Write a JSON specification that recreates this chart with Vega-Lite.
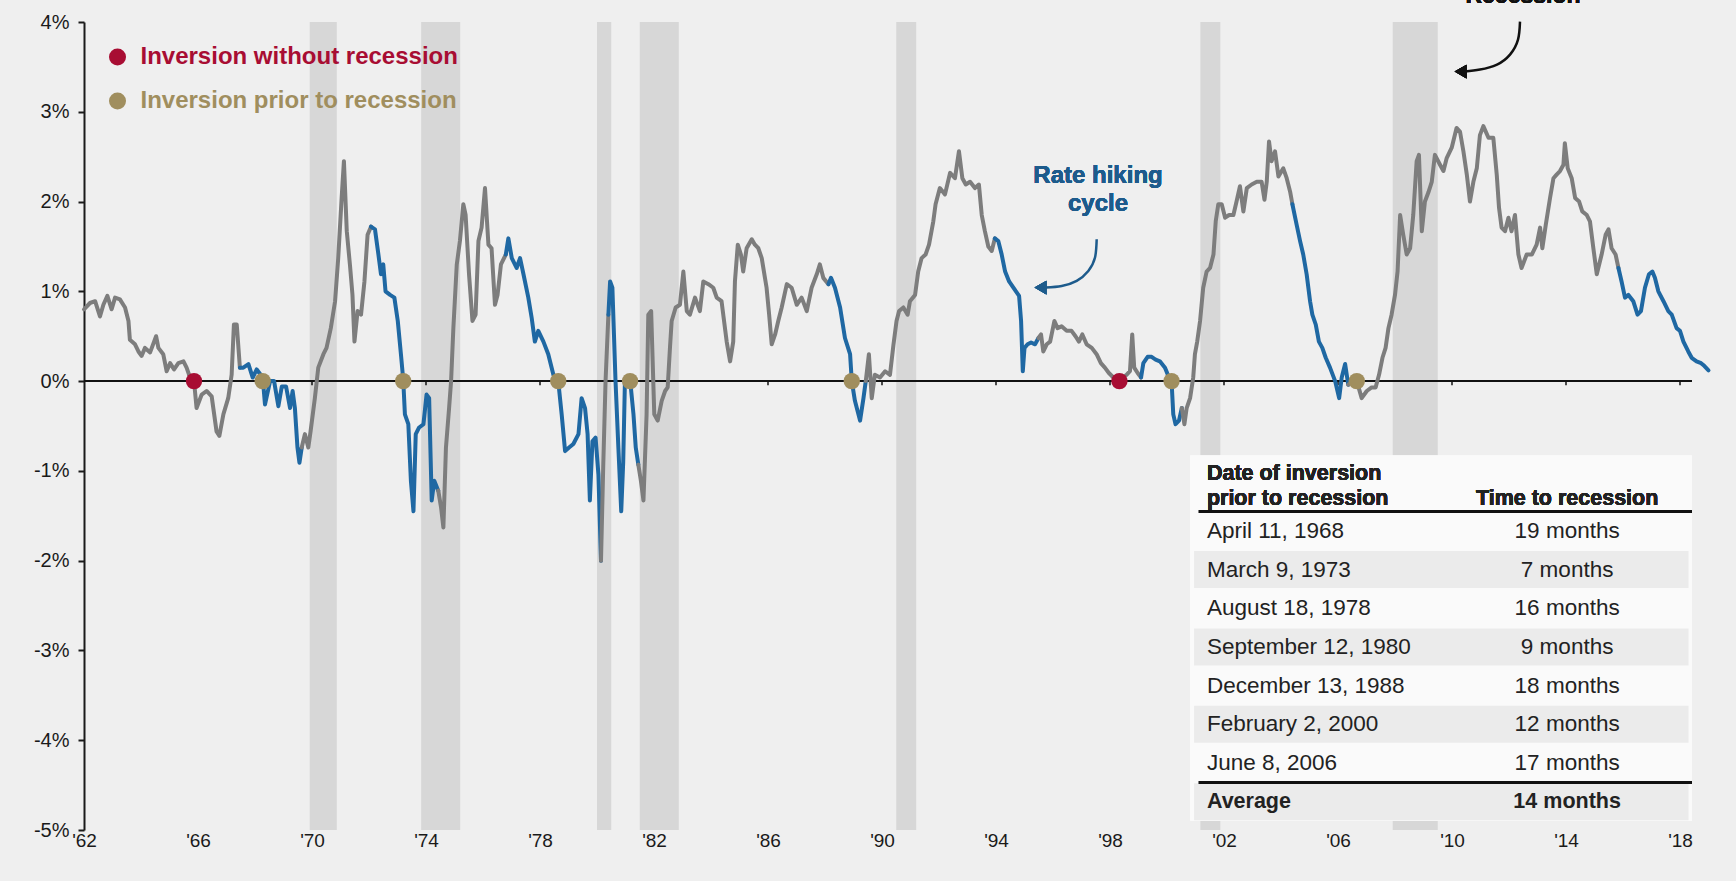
{
  "$schema": "https://vega.github.io/schema/vega-lite/v6.json",
  "width": 1641.6,
  "height": 808,
  "autosize": {"type": "none"},
  "padding": {"left": 84, "top": 22, "right": 10.4, "bottom": 51},
  "background": "#efefef",
  "config": {"view": {"stroke": null}, "font": "Liberation Sans", "text": {"font": "Liberation Sans"}},
  "datasets": {
    "recessions": [
      {"start": 1969.92, "end": 1970.87}, {"start": 1973.83, "end": 1975.2}, {"start": 1980.0, "end": 1980.5},
      {"start": 1981.5, "end": 1982.87}, {"start": 1990.5, "end": 1991.2}, {"start": 2001.17, "end": 2001.87},
      {"start": 2007.92, "end": 2009.5}
    ],
    "ticks": [{"yr":1966},{"yr":1970},{"yr":1974},{"yr":1978},{"yr":1982},{"yr":1986},{"yr":1990},{"yr":1994},{"yr":1998},{"yr":2002},{"yr":2006},{"yr":2010},{"yr":2014},{"yr":2018}],
    "inversions": [
      {"year": 1965.86, "spread": 0, "kind": "Inversion without recession"},
      {"year": 1998.33, "spread": 0, "kind": "Inversion without recession"},
      {"year": 1968.27, "spread": 0, "kind": "Inversion prior to recession"},
      {"year": 1973.2, "spread": 0, "kind": "Inversion prior to recession"},
      {"year": 1978.64, "spread": 0, "kind": "Inversion prior to recession"},
      {"year": 1981.16, "spread": 0, "kind": "Inversion prior to recession"},
      {"year": 1988.94, "spread": 0, "kind": "Inversion prior to recession"},
      {"year": 2000.16, "spread": 0, "kind": "Inversion prior to recession"},
      {"year": 2006.66, "spread": 0, "kind": "Inversion prior to recession"}
    ],
    "arrowRecession": [
      {"year": 2012.386, "spread": 4.004}, {"year": 2012.316, "spread": 3.804}, {"year": 2012.035, "spread": 3.637},
      {"year": 2011.579, "spread": 3.526}, {"year": 2010.982, "spread": 3.47}, {"year": 2010.45, "spread": 3.448}
    ],
    "arrowHiking": [
      {"year": 1997.533, "spread": 1.58}, {"year": 1997.474, "spread": 1.376}, {"year": 1997.239, "spread": 1.227},
      {"year": 1996.832, "spread": 1.116}, {"year": 1996.305, "spread": 1.06}, {"year": 1995.75, "spread": 1.042}
    ],
    "table": [
      {"r": 1, "date": "April 11, 1968", "lead": "19 months"},
      {"r": 2, "date": "March 9, 1973", "lead": "7 months"},
      {"r": 3, "date": "August 18, 1978", "lead": "16 months"},
      {"r": 4, "date": "September 12, 1980", "lead": "9 months"},
      {"r": 5, "date": "December 13, 1988", "lead": "18 months"},
      {"r": 6, "date": "February 2, 2000", "lead": "12 months"},
      {"r": 7, "date": "June 8, 2006", "lead": "17 months"},
      {"r": 8, "date": "Average", "lead": "14 months"}
    ],
    "series": [
      {"year":1962.0,"spread":0.80,"seg":0,"phase":"other"},{"year":1962.21,"spread":0.87,"seg":0,"phase":"other"},{"year":1962.39,"spread":0.89,"seg":0,"phase":"other"},{"year":1962.56,"spread":0.72,"seg":0,"phase":"other"},{"year":1962.68,"spread":0.85,"seg":0,"phase":"other"},{"year":1962.82,"spread":0.95,"seg":0,"phase":"other"},{"year":1962.97,"spread":0.80,"seg":0,"phase":"other"},{"year":1963.09,"spread":0.93,"seg":0,"phase":"other"},{"year":1963.26,"spread":0.91,"seg":0,"phase":"other"},{"year":1963.44,"spread":0.82,"seg":0,"phase":"other"},{"year":1963.56,"spread":0.67,"seg":0,"phase":"other"},{"year":1963.61,"spread":0.46,"seg":0,"phase":"other"},{"year":1963.79,"spread":0.41,"seg":0,"phase":"other"},{"year":1963.91,"spread":0.33,"seg":0,"phase":"other"},{"year":1964.02,"spread":0.28,"seg":0,"phase":"other"},{"year":1964.14,"spread":0.37,"seg":0,"phase":"other"},{"year":1964.32,"spread":0.32,"seg":0,"phase":"other"},{"year":1964.53,"spread":0.50,"seg":0,"phase":"other"},{"year":1964.61,"spread":0.37,"seg":0,"phase":"other"},{"year":1964.78,"spread":0.30,"seg":0,"phase":"other"},{"year":1964.9,"spread":0.11,"seg":0,"phase":"other"},{"year":1965.02,"spread":0.20,"seg":0,"phase":"other"},{"year":1965.16,"spread":0.13,"seg":0,"phase":"other"},{"year":1965.31,"spread":0.20,"seg":0,"phase":"other"},{"year":1965.49,"spread":0.22,"seg":0,"phase":"other"},{"year":1965.6,"spread":0.15,"seg":0,"phase":"other"},{"year":1965.72,"spread":0.04,"seg":0,"phase":"other"},{"year":1965.86,"spread":0.0,"seg":0,"phase":"other"},{"year":1965.95,"spread":-0.30,"seg":0,"phase":"other"},{"year":1966.13,"spread":-0.15,"seg":0,"phase":"other"},{"year":1966.3,"spread":-0.11,"seg":0,"phase":"other"},{"year":1966.48,"spread":-0.17,"seg":0,"phase":"other"},{"year":1966.65,"spread":-0.56,"seg":0,"phase":"other"},{"year":1966.75,"spread":-0.61,"seg":0,"phase":"other"},{"year":1966.89,"spread":-0.37,"seg":0,"phase":"other"},{"year":1967.06,"spread":-0.19,"seg":0,"phase":"other"},{"year":1967.18,"spread":0.07,"seg":0,"phase":"other"},{"year":1967.26,"spread":0.63,"seg":0,"phase":"other"},{"year":1967.36,"spread":0.63,"seg":0,"phase":"other"},{"year":1967.47,"spread":0.15,"seg":0,"phase":"other"},
      {"year":1967.47,"spread":0.15,"seg":1,"phase":"hike"},{"year":1967.59,"spread":0.15,"seg":1,"phase":"hike"},{"year":1967.77,"spread":0.19,"seg":1,"phase":"hike"},{"year":1967.92,"spread":0.04,"seg":1,"phase":"hike"},{"year":1968.06,"spread":0.13,"seg":1,"phase":"hike"},{"year":1968.27,"spread":0.04,"seg":1,"phase":"hike"},{"year":1968.35,"spread":-0.26,"seg":1,"phase":"hike"},{"year":1968.53,"spread":0.0,"seg":1,"phase":"hike"},{"year":1968.67,"spread":0.0,"seg":1,"phase":"hike"},{"year":1968.82,"spread":-0.28,"seg":1,"phase":"hike"},{"year":1968.94,"spread":-0.06,"seg":1,"phase":"hike"},{"year":1969.09,"spread":-0.06,"seg":1,"phase":"hike"},{"year":1969.23,"spread":-0.30,"seg":1,"phase":"hike"},{"year":1969.32,"spread":-0.11,"seg":1,"phase":"hike"},{"year":1969.4,"spread":-0.30,"seg":1,"phase":"hike"},{"year":1969.49,"spread":-0.74,"seg":1,"phase":"hike"},{"year":1969.56,"spread":-0.91,"seg":1,"phase":"hike"},{"year":1969.64,"spread":-0.74,"seg":1,"phase":"hike"},
      {"year":1969.64,"spread":-0.74,"seg":2,"phase":"other"},{"year":1969.75,"spread":-0.59,"seg":2,"phase":"other"},{"year":1969.87,"spread":-0.74,"seg":2,"phase":"other"},{"year":1969.95,"spread":-0.56,"seg":2,"phase":"other"},{"year":1970.1,"spread":-0.19,"seg":2,"phase":"other"},{"year":1970.22,"spread":0.15,"seg":2,"phase":"other"},{"year":1970.4,"spread":0.30,"seg":2,"phase":"other"},{"year":1970.51,"spread":0.37,"seg":2,"phase":"other"},{"year":1970.66,"spread":0.59,"seg":2,"phase":"other"},{"year":1970.81,"spread":0.89,"seg":2,"phase":"other"},{"year":1970.92,"spread":1.37,"seg":2,"phase":"other"},{"year":1971.04,"spread":2.04,"seg":2,"phase":"other"},{"year":1971.12,"spread":2.45,"seg":2,"phase":"other"},{"year":1971.22,"spread":1.67,"seg":2,"phase":"other"},{"year":1971.33,"spread":1.30,"seg":2,"phase":"other"},{"year":1971.42,"spread":0.96,"seg":2,"phase":"other"},{"year":1971.49,"spread":0.44,"seg":2,"phase":"other"},{"year":1971.6,"spread":0.78,"seg":2,"phase":"other"},{"year":1971.72,"spread":0.74,"seg":2,"phase":"other"},{"year":1971.84,"spread":1.11,"seg":2,"phase":"other"},{"year":1971.95,"spread":1.63,"seg":2,"phase":"other"},{"year":1972.07,"spread":1.72,"seg":2,"phase":"other"},
      {"year":1972.07,"spread":1.72,"seg":3,"phase":"hike"},{"year":1972.21,"spread":1.69,"seg":3,"phase":"hike"},{"year":1972.33,"spread":1.41,"seg":3,"phase":"hike"},{"year":1972.42,"spread":1.19,"seg":3,"phase":"hike"},{"year":1972.5,"spread":1.30,"seg":3,"phase":"hike"},{"year":1972.58,"spread":1.0,"seg":3,"phase":"hike"},{"year":1972.74,"spread":0.96,"seg":3,"phase":"hike"},{"year":1972.89,"spread":0.93,"seg":3,"phase":"hike"},{"year":1973.01,"spread":0.67,"seg":3,"phase":"hike"},{"year":1973.12,"spread":0.30,"seg":3,"phase":"hike"},{"year":1973.2,"spread":0.02,"seg":3,"phase":"hike"},{"year":1973.26,"spread":-0.37,"seg":3,"phase":"hike"},{"year":1973.38,"spread":-0.48,"seg":3,"phase":"hike"},{"year":1973.47,"spread":-1.11,"seg":3,"phase":"hike"},{"year":1973.56,"spread":-1.45,"seg":3,"phase":"hike"},{"year":1973.64,"spread":-0.59,"seg":3,"phase":"hike"},{"year":1973.75,"spread":-0.52,"seg":3,"phase":"hike"},{"year":1973.91,"spread":-0.48,"seg":3,"phase":"hike"},{"year":1974.02,"spread":-0.15,"seg":3,"phase":"hike"},{"year":1974.11,"spread":-0.19,"seg":3,"phase":"hike"},{"year":1974.2,"spread":-1.33,"seg":3,"phase":"hike"},{"year":1974.29,"spread":-1.11,"seg":3,"phase":"hike"},{"year":1974.43,"spread":-1.22,"seg":3,"phase":"hike"},
      {"year":1974.43,"spread":-1.22,"seg":4,"phase":"other"},{"year":1974.53,"spread":-1.41,"seg":4,"phase":"other"},{"year":1974.61,"spread":-1.63,"seg":4,"phase":"other"},{"year":1974.7,"spread":-0.74,"seg":4,"phase":"other"},{"year":1974.81,"spread":-0.30,"seg":4,"phase":"other"},{"year":1974.88,"spread":0.0,"seg":4,"phase":"other"},{"year":1974.96,"spread":0.59,"seg":4,"phase":"other"},{"year":1975.08,"spread":1.30,"seg":4,"phase":"other"},{"year":1975.19,"spread":1.56,"seg":4,"phase":"other"},{"year":1975.31,"spread":1.97,"seg":4,"phase":"other"},{"year":1975.39,"spread":1.85,"seg":4,"phase":"other"},{"year":1975.51,"spread":1.19,"seg":4,"phase":"other"},{"year":1975.63,"spread":0.67,"seg":4,"phase":"other"},{"year":1975.74,"spread":0.74,"seg":4,"phase":"other"},{"year":1975.84,"spread":1.56,"seg":4,"phase":"other"},{"year":1975.95,"spread":1.71,"seg":4,"phase":"other"},{"year":1976.07,"spread":2.15,"seg":4,"phase":"other"},{"year":1976.19,"spread":1.52,"seg":4,"phase":"other"},{"year":1976.3,"spread":1.48,"seg":4,"phase":"other"},{"year":1976.42,"spread":0.85,"seg":4,"phase":"other"},{"year":1976.51,"spread":0.96,"seg":4,"phase":"other"},{"year":1976.63,"spread":1.30,"seg":4,"phase":"other"},{"year":1976.8,"spread":1.41,"seg":4,"phase":"other"},
      {"year":1976.8,"spread":1.41,"seg":5,"phase":"hike"},{"year":1976.89,"spread":1.59,"seg":5,"phase":"hike"},{"year":1977.01,"spread":1.37,"seg":5,"phase":"hike"},{"year":1977.18,"spread":1.26,"seg":5,"phase":"hike"},{"year":1977.3,"spread":1.37,"seg":5,"phase":"hike"},{"year":1977.42,"spread":1.19,"seg":5,"phase":"hike"},{"year":1977.59,"spread":0.93,"seg":5,"phase":"hike"},{"year":1977.71,"spread":0.70,"seg":5,"phase":"hike"},{"year":1977.82,"spread":0.44,"seg":5,"phase":"hike"},{"year":1977.94,"spread":0.56,"seg":5,"phase":"hike"},{"year":1978.12,"spread":0.44,"seg":5,"phase":"hike"},{"year":1978.29,"spread":0.30,"seg":5,"phase":"hike"},{"year":1978.47,"spread":0.07,"seg":5,"phase":"hike"},{"year":1978.64,"spread":0.0,"seg":5,"phase":"hike"},{"year":1978.76,"spread":-0.37,"seg":5,"phase":"hike"},{"year":1978.88,"spread":-0.78,"seg":5,"phase":"hike"},{"year":1979.02,"spread":-0.74,"seg":5,"phase":"hike"},{"year":1979.17,"spread":-0.70,"seg":5,"phase":"hike"},{"year":1979.35,"spread":-0.59,"seg":5,"phase":"hike"},{"year":1979.46,"spread":-0.19,"seg":5,"phase":"hike"},{"year":1979.58,"spread":-0.30,"seg":5,"phase":"hike"},{"year":1979.67,"spread":-0.59,"seg":5,"phase":"hike"},{"year":1979.75,"spread":-1.33,"seg":5,"phase":"hike"},{"year":1979.84,"spread":-0.67,"seg":5,"phase":"hike"},{"year":1979.95,"spread":-0.63,"seg":5,"phase":"hike"},{"year":1980.05,"spread":-1.04,"seg":5,"phase":"hike"},{"year":1980.14,"spread":-2.0,"seg":5,"phase":"hike"},
      {"year":1980.14,"spread":-2.0,"seg":6,"phase":"other"},{"year":1980.22,"spread":-0.93,"seg":6,"phase":"other"},{"year":1980.3,"spread":0.0,"seg":6,"phase":"other"},{"year":1980.4,"spread":0.74,"seg":6,"phase":"other"},
      {"year":1980.4,"spread":0.74,"seg":7,"phase":"hike"},{"year":1980.46,"spread":1.11,"seg":7,"phase":"hike"},{"year":1980.54,"spread":1.04,"seg":7,"phase":"hike"},{"year":1980.65,"spread":0.0,"seg":7,"phase":"hike"},{"year":1980.75,"spread":-0.74,"seg":7,"phase":"hike"},{"year":1980.85,"spread":-1.45,"seg":7,"phase":"hike"},{"year":1980.92,"spread":-0.9,"seg":7,"phase":"hike"},{"year":1980.98,"spread":0.0,"seg":7,"phase":"hike"},{"year":1981.08,"spread":0.05,"seg":7,"phase":"hike"},{"year":1981.16,"spread":0.02,"seg":7,"phase":"hike"},{"year":1981.28,"spread":-0.37,"seg":7,"phase":"hike"},{"year":1981.36,"spread":-0.74,"seg":7,"phase":"hike"},{"year":1981.45,"spread":-0.93,"seg":7,"phase":"hike"},
      {"year":1981.45,"spread":-0.93,"seg":8,"phase":"other"},{"year":1981.54,"spread":-1.11,"seg":8,"phase":"other"},{"year":1981.63,"spread":-1.33,"seg":8,"phase":"other"},{"year":1981.74,"spread":-0.37,"seg":8,"phase":"other"},{"year":1981.8,"spread":0.74,"seg":8,"phase":"other"},{"year":1981.9,"spread":0.78,"seg":8,"phase":"other"},{"year":1982.01,"spread":-0.37,"seg":8,"phase":"other"},{"year":1982.13,"spread":-0.44,"seg":8,"phase":"other"},{"year":1982.27,"spread":-0.22,"seg":8,"phase":"other"},{"year":1982.39,"spread":-0.11,"seg":8,"phase":"other"},{"year":1982.48,"spread":-0.07,"seg":8,"phase":"other"},{"year":1982.56,"spread":0.37,"seg":8,"phase":"other"},{"year":1982.62,"spread":0.67,"seg":8,"phase":"other"},{"year":1982.76,"spread":0.82,"seg":8,"phase":"other"},{"year":1982.91,"spread":0.85,"seg":8,"phase":"other"},{"year":1983.03,"spread":1.22,"seg":8,"phase":"other"},{"year":1983.15,"spread":0.78,"seg":8,"phase":"other"},{"year":1983.26,"spread":0.74,"seg":8,"phase":"other"},{"year":1983.44,"spread":0.93,"seg":8,"phase":"other"},{"year":1983.61,"spread":0.78,"seg":8,"phase":"other"},{"year":1983.73,"spread":1.11,"seg":8,"phase":"other"},{"year":1983.91,"spread":1.08,"seg":8,"phase":"other"},{"year":1984.08,"spread":1.04,"seg":8,"phase":"other"},{"year":1984.2,"spread":0.93,"seg":8,"phase":"other"},{"year":1984.37,"spread":0.89,"seg":8,"phase":"other"},{"year":1984.55,"spread":0.44,"seg":8,"phase":"other"},{"year":1984.67,"spread":0.22,"seg":8,"phase":"other"},{"year":1984.78,"spread":0.44,"seg":8,"phase":"other"},{"year":1984.84,"spread":1.11,"seg":8,"phase":"other"},{"year":1984.94,"spread":1.52,"seg":8,"phase":"other"},{"year":1985.05,"spread":1.41,"seg":8,"phase":"other"},{"year":1985.13,"spread":1.22,"seg":8,"phase":"other"},{"year":1985.25,"spread":1.48,"seg":8,"phase":"other"},{"year":1985.43,"spread":1.58,"seg":8,"phase":"other"},{"year":1985.54,"spread":1.52,"seg":8,"phase":"other"},{"year":1985.66,"spread":1.48,"seg":8,"phase":"other"},{"year":1985.78,"spread":1.37,"seg":8,"phase":"other"},{"year":1985.95,"spread":1.04,"seg":8,"phase":"other"},{"year":1986.04,"spread":0.74,"seg":8,"phase":"other"},{"year":1986.13,"spread":0.41,"seg":8,"phase":"other"},{"year":1986.25,"spread":0.52,"seg":8,"phase":"other"},{"year":1986.36,"spread":0.67,"seg":8,"phase":"other"},{"year":1986.48,"spread":0.82,"seg":8,"phase":"other"},{"year":1986.66,"spread":1.08,"seg":8,"phase":"other"},{"year":1986.83,"spread":1.04,"seg":8,"phase":"other"},{"year":1987.01,"spread":0.85,"seg":8,"phase":"other"},{"year":1987.18,"spread":0.93,"seg":8,"phase":"other"},{"year":1987.36,"spread":0.78,"seg":8,"phase":"other"},{"year":1987.53,"spread":1.04,"seg":8,"phase":"other"},{"year":1987.71,"spread":1.19,"seg":8,"phase":"other"},{"year":1987.82,"spread":1.30,"seg":8,"phase":"other"},{"year":1987.94,"spread":1.15,"seg":8,"phase":"other"},{"year":1988.12,"spread":1.08,"seg":8,"phase":"other"},
      {"year":1988.12,"spread":1.08,"seg":9,"phase":"hike"},{"year":1988.21,"spread":1.15,"seg":9,"phase":"hike"},{"year":1988.35,"spread":1.04,"seg":9,"phase":"hike"},{"year":1988.53,"spread":0.82,"seg":9,"phase":"hike"},{"year":1988.7,"spread":0.48,"seg":9,"phase":"hike"},{"year":1988.88,"spread":0.30,"seg":9,"phase":"hike"},{"year":1988.94,"spread":0.0,"seg":9,"phase":"hike"},{"year":1989.05,"spread":-0.22,"seg":9,"phase":"hike"},{"year":1989.23,"spread":-0.44,"seg":9,"phase":"hike"},{"year":1989.35,"spread":-0.19,"seg":9,"phase":"hike"},{"year":1989.43,"spread":0.0,"seg":9,"phase":"hike"},
      {"year":1989.43,"spread":0.0,"seg":10,"phase":"other"},{"year":1989.54,"spread":0.30,"seg":10,"phase":"other"},{"year":1989.64,"spread":-0.19,"seg":10,"phase":"other"},{"year":1989.75,"spread":0.07,"seg":10,"phase":"other"},{"year":1989.93,"spread":0.04,"seg":10,"phase":"other"},{"year":1990.11,"spread":0.11,"seg":10,"phase":"other"},{"year":1990.28,"spread":0.07,"seg":10,"phase":"other"},{"year":1990.4,"spread":0.40,"seg":10,"phase":"other"},{"year":1990.51,"spread":0.67,"seg":10,"phase":"other"},{"year":1990.6,"spread":0.78,"seg":10,"phase":"other"},{"year":1990.75,"spread":0.82,"seg":10,"phase":"other"},{"year":1990.9,"spread":0.74,"seg":10,"phase":"other"},{"year":1990.98,"spread":0.89,"seg":10,"phase":"other"},{"year":1991.16,"spread":0.96,"seg":10,"phase":"other"},{"year":1991.27,"spread":1.22,"seg":10,"phase":"other"},{"year":1991.39,"spread":1.37,"seg":10,"phase":"other"},{"year":1991.53,"spread":1.41,"seg":10,"phase":"other"},{"year":1991.65,"spread":1.52,"seg":10,"phase":"other"},{"year":1991.8,"spread":1.78,"seg":10,"phase":"other"},{"year":1991.88,"spread":1.97,"seg":10,"phase":"other"},{"year":1992.03,"spread":2.15,"seg":10,"phase":"other"},{"year":1992.21,"spread":2.08,"seg":10,"phase":"other"},{"year":1992.39,"spread":2.32,"seg":10,"phase":"other"},{"year":1992.56,"spread":2.26,"seg":10,"phase":"other"},{"year":1992.7,"spread":2.56,"seg":10,"phase":"other"},{"year":1992.82,"spread":2.26,"seg":10,"phase":"other"},{"year":1992.94,"spread":2.19,"seg":10,"phase":"other"},{"year":1993.09,"spread":2.22,"seg":10,"phase":"other"},{"year":1993.26,"spread":2.15,"seg":10,"phase":"other"},{"year":1993.4,"spread":2.19,"seg":10,"phase":"other"},{"year":1993.5,"spread":1.85,"seg":10,"phase":"other"},{"year":1993.61,"spread":1.67,"seg":10,"phase":"other"},{"year":1993.73,"spread":1.50,"seg":10,"phase":"other"},{"year":1993.85,"spread":1.45,"seg":10,"phase":"other"},{"year":1993.96,"spread":1.59,"seg":10,"phase":"other"},
      {"year":1993.96,"spread":1.59,"seg":11,"phase":"hike"},{"year":1994.08,"spread":1.56,"seg":11,"phase":"hike"},{"year":1994.2,"spread":1.41,"seg":11,"phase":"hike"},{"year":1994.32,"spread":1.22,"seg":11,"phase":"hike"},{"year":1994.46,"spread":1.11,"seg":11,"phase":"hike"},{"year":1994.61,"spread":1.04,"seg":11,"phase":"hike"},{"year":1994.81,"spread":0.95,"seg":11,"phase":"hike"},{"year":1994.88,"spread":0.67,"seg":11,"phase":"hike"},{"year":1994.94,"spread":0.11,"seg":11,"phase":"hike"},{"year":1995.0,"spread":0.37,"seg":11,"phase":"hike"},{"year":1995.11,"spread":0.41,"seg":11,"phase":"hike"},{"year":1995.23,"spread":0.43,"seg":11,"phase":"hike"},{"year":1995.37,"spread":0.41,"seg":11,"phase":"hike"},{"year":1995.49,"spread":0.48,"seg":11,"phase":"hike"},
      {"year":1995.49,"spread":0.48,"seg":12,"phase":"other"},{"year":1995.58,"spread":0.52,"seg":12,"phase":"other"},{"year":1995.66,"spread":0.33,"seg":12,"phase":"other"},{"year":1995.78,"spread":0.41,"seg":12,"phase":"other"},{"year":1995.9,"spread":0.44,"seg":12,"phase":"other"},{"year":1996.05,"spread":0.67,"seg":12,"phase":"other"},{"year":1996.16,"spread":0.59,"seg":12,"phase":"other"},{"year":1996.3,"spread":0.61,"seg":12,"phase":"other"},{"year":1996.48,"spread":0.56,"seg":12,"phase":"other"},{"year":1996.65,"spread":0.56,"seg":12,"phase":"other"},{"year":1996.79,"spread":0.50,"seg":12,"phase":"other"},{"year":1996.91,"spread":0.44,"seg":12,"phase":"other"},{"year":1997.03,"spread":0.52,"seg":12,"phase":"other"},{"year":1997.18,"spread":0.41,"seg":12,"phase":"other"},{"year":1997.36,"spread":0.37,"seg":12,"phase":"other"},{"year":1997.53,"spread":0.30,"seg":12,"phase":"other"},{"year":1997.68,"spread":0.20,"seg":12,"phase":"other"},{"year":1997.82,"spread":0.15,"seg":12,"phase":"other"},{"year":1997.96,"spread":0.09,"seg":12,"phase":"other"},{"year":1998.12,"spread":0.04,"seg":12,"phase":"other"},{"year":1998.33,"spread":0.0,"seg":12,"phase":"other"},{"year":1998.43,"spread":0.04,"seg":12,"phase":"other"},{"year":1998.58,"spread":0.07,"seg":12,"phase":"other"},{"year":1998.7,"spread":0.11,"seg":12,"phase":"other"},{"year":1998.78,"spread":0.52,"seg":12,"phase":"other"},{"year":1998.85,"spread":0.15,"seg":12,"phase":"other"},{"year":1998.97,"spread":0.09,"seg":12,"phase":"other"},{"year":1999.09,"spread":0.04,"seg":12,"phase":"other"},
      {"year":1999.09,"spread":0.04,"seg":13,"phase":"hike"},{"year":1999.17,"spread":0.20,"seg":13,"phase":"hike"},{"year":1999.32,"spread":0.27,"seg":13,"phase":"hike"},{"year":1999.46,"spread":0.27,"seg":13,"phase":"hike"},{"year":1999.6,"spread":0.24,"seg":13,"phase":"hike"},{"year":1999.75,"spread":0.22,"seg":13,"phase":"hike"},{"year":1999.93,"spread":0.15,"seg":13,"phase":"hike"},{"year":2000.07,"spread":0.04,"seg":13,"phase":"hike"},{"year":2000.16,"spread":0.0,"seg":13,"phase":"hike"},{"year":2000.22,"spread":-0.37,"seg":13,"phase":"hike"},{"year":2000.3,"spread":-0.48,"seg":13,"phase":"hike"},{"year":2000.42,"spread":-0.44,"seg":13,"phase":"hike"},{"year":2000.52,"spread":-0.30,"seg":13,"phase":"hike"},
      {"year":2000.52,"spread":-0.30,"seg":14,"phase":"other"},{"year":2000.61,"spread":-0.48,"seg":14,"phase":"other"},{"year":2000.69,"spread":-0.30,"seg":14,"phase":"other"},{"year":2000.81,"spread":-0.19,"seg":14,"phase":"other"},{"year":2000.92,"spread":0.04,"seg":14,"phase":"other"},{"year":2000.98,"spread":0.30,"seg":14,"phase":"other"},{"year":2001.06,"spread":0.44,"seg":14,"phase":"other"},{"year":2001.16,"spread":0.67,"seg":14,"phase":"other"},{"year":2001.27,"spread":1.04,"seg":14,"phase":"other"},{"year":2001.39,"spread":1.22,"seg":14,"phase":"other"},{"year":2001.51,"spread":1.26,"seg":14,"phase":"other"},{"year":2001.63,"spread":1.41,"seg":14,"phase":"other"},{"year":2001.71,"spread":1.78,"seg":14,"phase":"other"},{"year":2001.8,"spread":1.97,"seg":14,"phase":"other"},{"year":2001.92,"spread":1.97,"seg":14,"phase":"other"},{"year":2002.04,"spread":1.82,"seg":14,"phase":"other"},{"year":2002.18,"spread":1.85,"seg":14,"phase":"other"},{"year":2002.33,"spread":1.85,"seg":14,"phase":"other"},{"year":2002.44,"spread":2.0,"seg":14,"phase":"other"},{"year":2002.56,"spread":2.17,"seg":14,"phase":"other"},{"year":2002.68,"spread":1.89,"seg":14,"phase":"other"},{"year":2002.8,"spread":2.15,"seg":14,"phase":"other"},{"year":2002.97,"spread":2.19,"seg":14,"phase":"other"},{"year":2003.15,"spread":2.22,"seg":14,"phase":"other"},{"year":2003.32,"spread":2.22,"seg":14,"phase":"other"},{"year":2003.42,"spread":2.02,"seg":14,"phase":"other"},{"year":2003.5,"spread":2.22,"seg":14,"phase":"other"},{"year":2003.58,"spread":2.67,"seg":14,"phase":"other"},{"year":2003.67,"spread":2.45,"seg":14,"phase":"other"},{"year":2003.79,"spread":2.56,"seg":14,"phase":"other"},{"year":2003.91,"spread":2.28,"seg":14,"phase":"other"},{"year":2004.08,"spread":2.37,"seg":14,"phase":"other"},{"year":2004.2,"spread":2.26,"seg":14,"phase":"other"},{"year":2004.32,"spread":2.11,"seg":14,"phase":"other"},{"year":2004.4,"spread":1.97,"seg":14,"phase":"other"},
      {"year":2004.4,"spread":1.97,"seg":15,"phase":"hike"},{"year":2004.55,"spread":1.74,"seg":15,"phase":"hike"},{"year":2004.67,"spread":1.56,"seg":15,"phase":"hike"},{"year":2004.78,"spread":1.41,"seg":15,"phase":"hike"},{"year":2004.9,"spread":1.19,"seg":15,"phase":"hike"},{"year":2005.02,"spread":0.89,"seg":15,"phase":"hike"},{"year":2005.1,"spread":0.74,"seg":15,"phase":"hike"},{"year":2005.22,"spread":0.63,"seg":15,"phase":"hike"},{"year":2005.33,"spread":0.44,"seg":15,"phase":"hike"},{"year":2005.45,"spread":0.37,"seg":15,"phase":"hike"},{"year":2005.57,"spread":0.26,"seg":15,"phase":"hike"},{"year":2005.72,"spread":0.15,"seg":15,"phase":"hike"},{"year":2005.9,"spread":0.0,"seg":15,"phase":"hike"},{"year":2006.04,"spread":-0.19,"seg":15,"phase":"hike"},{"year":2006.13,"spread":0.04,"seg":15,"phase":"hike"},{"year":2006.25,"spread":0.19,"seg":15,"phase":"hike"},{"year":2006.36,"spread":-0.04,"seg":15,"phase":"hike"},
      {"year":2006.36,"spread":-0.04,"seg":16,"phase":"other"},{"year":2006.5,"spread":0.0,"seg":16,"phase":"other"},{"year":2006.66,"spread":0.0,"seg":16,"phase":"other"},{"year":2006.83,"spread":-0.19,"seg":16,"phase":"other"},{"year":2007.01,"spread":-0.11,"seg":16,"phase":"other"},{"year":2007.18,"spread":-0.07,"seg":16,"phase":"other"},{"year":2007.32,"spread":-0.07,"seg":16,"phase":"other"},{"year":2007.44,"spread":0.07,"seg":16,"phase":"other"},{"year":2007.56,"spread":0.26,"seg":16,"phase":"other"},{"year":2007.67,"spread":0.37,"seg":16,"phase":"other"},{"year":2007.77,"spread":0.59,"seg":16,"phase":"other"},{"year":2007.88,"spread":0.74,"seg":16,"phase":"other"},{"year":2008.0,"spread":0.96,"seg":16,"phase":"other"},{"year":2008.09,"spread":1.22,"seg":16,"phase":"other"},{"year":2008.18,"spread":1.85,"seg":16,"phase":"other"},{"year":2008.29,"spread":1.63,"seg":16,"phase":"other"},{"year":2008.41,"spread":1.41,"seg":16,"phase":"other"},{"year":2008.53,"spread":1.48,"seg":16,"phase":"other"},{"year":2008.64,"spread":1.85,"seg":16,"phase":"other"},{"year":2008.76,"spread":2.45,"seg":16,"phase":"other"},{"year":2008.84,"spread":2.52,"seg":16,"phase":"other"},{"year":2008.94,"spread":1.67,"seg":16,"phase":"other"},{"year":2009.05,"spread":2.0,"seg":16,"phase":"other"},{"year":2009.17,"spread":2.1,"seg":16,"phase":"other"},{"year":2009.29,"spread":2.22,"seg":16,"phase":"other"},{"year":2009.4,"spread":2.52,"seg":16,"phase":"other"},{"year":2009.58,"spread":2.41,"seg":16,"phase":"other"},{"year":2009.7,"spread":2.34,"seg":16,"phase":"other"},{"year":2009.81,"spread":2.48,"seg":16,"phase":"other"},{"year":2009.99,"spread":2.60,"seg":16,"phase":"other"},{"year":2010.16,"spread":2.82,"seg":16,"phase":"other"},{"year":2010.28,"spread":2.78,"seg":16,"phase":"other"},{"year":2010.4,"spread":2.56,"seg":16,"phase":"other"},{"year":2010.52,"spread":2.30,"seg":16,"phase":"other"},{"year":2010.63,"spread":2.0,"seg":16,"phase":"other"},{"year":2010.75,"spread":2.22,"seg":16,"phase":"other"},{"year":2010.87,"spread":2.37,"seg":16,"phase":"other"},{"year":2010.98,"spread":2.74,"seg":16,"phase":"other"},{"year":2011.1,"spread":2.84,"seg":16,"phase":"other"},{"year":2011.28,"spread":2.71,"seg":16,"phase":"other"},{"year":2011.45,"spread":2.71,"seg":16,"phase":"other"},{"year":2011.57,"spread":2.30,"seg":16,"phase":"other"},{"year":2011.65,"spread":1.93,"seg":16,"phase":"other"},{"year":2011.74,"spread":1.71,"seg":16,"phase":"other"},{"year":2011.86,"spread":1.67,"seg":16,"phase":"other"},{"year":2011.98,"spread":1.82,"seg":16,"phase":"other"},{"year":2012.09,"spread":1.67,"seg":16,"phase":"other"},{"year":2012.21,"spread":1.85,"seg":16,"phase":"other"},{"year":2012.33,"spread":1.41,"seg":16,"phase":"other"},{"year":2012.44,"spread":1.26,"seg":16,"phase":"other"},{"year":2012.62,"spread":1.41,"seg":16,"phase":"other"},{"year":2012.8,"spread":1.41,"seg":16,"phase":"other"},{"year":2012.97,"spread":1.52,"seg":16,"phase":"other"},{"year":2013.09,"spread":1.71,"seg":16,"phase":"other"},{"year":2013.17,"spread":1.48,"seg":16,"phase":"other"},{"year":2013.29,"spread":1.74,"seg":16,"phase":"other"},{"year":2013.44,"spread":2.04,"seg":16,"phase":"other"},{"year":2013.56,"spread":2.26,"seg":16,"phase":"other"},{"year":2013.67,"spread":2.30,"seg":16,"phase":"other"},{"year":2013.79,"spread":2.34,"seg":16,"phase":"other"},{"year":2013.91,"spread":2.41,"seg":16,"phase":"other"},{"year":2013.96,"spread":2.65,"seg":16,"phase":"other"},{"year":2014.06,"spread":2.37,"seg":16,"phase":"other"},{"year":2014.2,"spread":2.26,"seg":16,"phase":"other"},{"year":2014.32,"spread":2.04,"seg":16,"phase":"other"},{"year":2014.46,"spread":2.0,"seg":16,"phase":"other"},{"year":2014.57,"spread":1.89,"seg":16,"phase":"other"},{"year":2014.73,"spread":1.85,"seg":16,"phase":"other"},{"year":2014.84,"spread":1.78,"seg":16,"phase":"other"},{"year":2014.96,"spread":1.48,"seg":16,"phase":"other"},{"year":2015.08,"spread":1.19,"seg":16,"phase":"other"},{"year":2015.25,"spread":1.41,"seg":16,"phase":"other"},{"year":2015.39,"spread":1.63,"seg":16,"phase":"other"},{"year":2015.49,"spread":1.69,"seg":16,"phase":"other"},{"year":2015.6,"spread":1.48,"seg":16,"phase":"other"},{"year":2015.74,"spread":1.41,"seg":16,"phase":"other"},{"year":2015.84,"spread":1.26,"seg":16,"phase":"other"},
      {"year":2015.84,"spread":1.26,"seg":17,"phase":"hike"},{"year":2015.95,"spread":1.11,"seg":17,"phase":"hike"},{"year":2016.07,"spread":0.93,"seg":17,"phase":"hike"},{"year":2016.19,"spread":0.96,"seg":17,"phase":"hike"},{"year":2016.36,"spread":0.89,"seg":17,"phase":"hike"},{"year":2016.51,"spread":0.74,"seg":17,"phase":"hike"},{"year":2016.63,"spread":0.78,"seg":17,"phase":"hike"},{"year":2016.77,"spread":1.04,"seg":17,"phase":"hike"},{"year":2016.91,"spread":1.19,"seg":17,"phase":"hike"},{"year":2017.03,"spread":1.22,"seg":17,"phase":"hike"},{"year":2017.12,"spread":1.15,"seg":17,"phase":"hike"},{"year":2017.24,"spread":1.0,"seg":17,"phase":"hike"},{"year":2017.42,"spread":0.89,"seg":17,"phase":"hike"},{"year":2017.59,"spread":0.78,"seg":17,"phase":"hike"},{"year":2017.71,"spread":0.74,"seg":17,"phase":"hike"},{"year":2017.88,"spread":0.59,"seg":17,"phase":"hike"},{"year":2018.0,"spread":0.56,"seg":17,"phase":"hike"},{"year":2018.12,"spread":0.44,"seg":17,"phase":"hike"},{"year":2018.29,"spread":0.33,"seg":17,"phase":"hike"},{"year":2018.41,"spread":0.26,"seg":17,"phase":"hike"},{"year":2018.58,"spread":0.22,"seg":17,"phase":"hike"},{"year":2018.74,"spread":0.20,"seg":17,"phase":"hike"},{"year":2018.85,"spread":0.17,"seg":17,"phase":"hike"},{"year":2019.0,"spread":0.12,"seg":17,"phase":"hike"}
    ]
  },
  "layer": [
    {
      "layer": [
        {
          "data": {"name": "recessions"},
          "mark": {"type": "rect", "color": "#d7d7d7"},
          "encoding": {
            "x": {"field": "start", "type": "quantitative", "title": null, "scale": {"domain": [1962, 2019.6], "nice": false, "zero": false}},
            "x2": {"field": "end"},
            "y": {"datum": 4, "type": "quantitative", "title": null, "scale": {"domain": [-5, 4], "nice": false, "zero": false}},
            "y2": {"datum": -5}
          }
        },
        {
          "data": {"name": "recessions"},
          "mark": {"type": "rule", "color": "#111111", "strokeWidth": 2},
          "encoding": {
            "x": {"datum": 1962, "type": "quantitative", "title": null},
            "x2": {"datum": 2018.4},
            "y": {"datum": 0, "type": "quantitative", "title": null}
          }
        },
        {
          "data": {"name": "ticks"},
          "mark": {"type": "rule", "color": "#111111", "strokeWidth": 1.5},
          "encoding": {
            "x": {"field": "yr", "type": "quantitative", "title": null},
            "y": {"datum": 0, "type": "quantitative", "title": null},
            "y2": {"datum": -0.045}
          }
        },
        {
          "data": {"name": "series"},
          "mark": {"type": "line", "strokeWidth": 4, "strokeJoin": "round", "strokeCap": "round"},
          "encoding": {
            "x": {"field": "year", "type": "quantitative", "title": null,
              "axis": {"values": [1962,1966,1970,1974,1978,1982,1986,1990,1994,1998,2002,2006,2010,2014,2018],
                "labelExpr": "\"'\" + substring(toString(datum.value), 2)", "ticks": false, "domain": false, "grid": false,
                "labelFontSize": 19, "labelPadding": 1, "labelColor": "#1a1a1a", "labelFont": "Liberation Sans", "labelFlush": false}},
            "y": {"field": "spread", "type": "quantitative", "title": null,
              "axis": {"values": [-5,-4,-3,-2,-1,0,1,2,3,4], "labelExpr": "datum.value + '%'", "grid": false,
                "tickSize": 6, "tickWidth": 2, "domainWidth": 2, "domainColor": "#1a1a1a", "tickColor": "#1a1a1a",
                "labelFontSize": 20, "labelPadding": 9, "labelColor": "#1a1a1a", "labelFont": "Liberation Sans"}},
            "detail": {"field": "seg", "type": "nominal"},
            "stroke": {"field": "phase", "type": "nominal", "scale": {"domain": ["other", "hike"], "range": ["#7d7d7d", "#1f68a3"]}, "legend": null}
          }
        },
        {
          "data": {"name": "inversions"},
          "mark": {"type": "circle", "size": 270, "opacity": 1},
          "encoding": {
            "x": {"field": "year", "type": "quantitative", "title": null},
            "y": {"field": "spread", "type": "quantitative", "title": null},
            "color": {"field": "kind", "type": "nominal",
              "scale": {"domain": ["Inversion without recession", "Inversion prior to recession"], "range": ["#a80d33", "#a08e5e"]},
              "legend": {"orient": "none", "legendX": 21.5, "legendY": 23, "title": null, "padding": 0,
                "labelFontSize": 24, "labelFont": "Liberation Sans", "labelFontWeight": "bold", "symbolSize": 290,
                "symbolType": "circle", "rowPadding": 20, "labelOffset": 11, "symbolStrokeWidth": 0, "labelLimit": 600,
                "symbolOpacity": 1,
                "encode": {"labels": {"update": {"fill": {"scale": "color", "field": "value"}}}}}}
          }
        },
        {
          "data": {"name": "arrowHiking"},
          "mark": {"type": "line", "interpolate": "natural", "color": "#1d5b8c", "strokeWidth": 2.5},
          "encoding": {
            "x": {"field": "year", "type": "quantitative", "title": null},
            "y": {"field": "spread", "type": "quantitative", "title": null},
            "order": {"value": null}
          }
        },
        {
          "data": {"name": "arrowHiking"},
          "mark": {"type": "point", "shape": "triangle-left", "filled": true, "size": 190, "color": "#1d5b8c", "opacity": 1},
          "encoding": {
            "x": {"datum": 1995.56, "type": "quantitative", "title": null},
            "y": {"datum": 1.042, "type": "quantitative", "title": null}
          }
        },
        {
          "data": {"name": "arrowRecession"},
          "mark": {"type": "line", "interpolate": "natural", "color": "#111111", "strokeWidth": 2.5},
          "encoding": {
            "x": {"field": "year", "type": "quantitative", "title": null},
            "y": {"field": "spread", "type": "quantitative", "title": null},
            "order": {"value": null}
          }
        },
        {
          "data": {"name": "arrowRecession"},
          "mark": {"type": "point", "shape": "triangle-left", "filled": true, "size": 190, "color": "#111111", "opacity": 1},
          "encoding": {
            "x": {"datum": 2010.3, "type": "quantitative", "title": null},
            "y": {"datum": 3.448, "type": "quantitative", "title": null}
          }
        },
        {
          "data": {"name": "arrowHiking"},
          "mark": {"type": "text", "text": ["Rate hiking", "cycle"], "font": "Liberation Sans", "fontWeight": "bold", "fontSize": 24, "lineHeight": 28.5, "color": "#1d5b8c", "align": "center", "baseline": "middle"},
          "encoding": {
            "x": {"datum": 1997.58, "type": "quantitative", "title": null},
            "y": {"datum": 2.287, "type": "quantitative", "title": null}
          }
        },
        {
          "data": {"name": "arrowRecession"},
          "mark": {"type": "text", "text": "Recession", "font": "Liberation Sans", "fontWeight": "bold", "fontSize": 23, "color": "#111111", "align": "center", "baseline": "alphabetic"},
          "encoding": {
            "x": {"datum": 2012.49, "type": "quantitative", "title": null},
            "y": {"datum": 4.216, "type": "quantitative", "title": null}
          }
        }
      ]
    },
    {
      "data": {"name": "table"},
      "layer": [
        {
          "mark": {"type": "rect", "color": "#fafafa"},
          "encoding": {
            "x": {"datum": 2000.81, "type": "quantitative", "title": null},
            "x2": {"datum": 2018.42},
            "y": {"datum": -0.94, "type": "quantitative", "scale": {"domain": [-12.15, 8.73], "reverse": true, "nice": false, "zero": false}, "axis": null},
            "y2": {"datum": 8.49}
          }
        },
        {
          "transform": [{"filter": "datum.r % 2 == 0"}],
          "mark": {"type": "rect", "color": "#ebebeb", "height": 37},
          "encoding": {
            "x": {"datum": 2000.95, "type": "quantitative", "title": null},
            "x2": {"datum": 2018.3},
            "y": {"field": "r", "type": "quantitative", "axis": null}
          }
        },
        {
          "mark": {"type": "rule", "color": "#111111", "strokeWidth": 3},
          "encoding": {
            "x": {"datum": 2001.12, "type": "quantitative", "title": null},
            "x2": {"datum": 2018.42},
            "y": {"datum": 0.5, "type": "quantitative", "axis": null}
          }
        },
        {
          "mark": {"type": "rule", "color": "#111111", "strokeWidth": 3},
          "encoding": {
            "x": {"datum": 2001.12, "type": "quantitative", "title": null},
            "x2": {"datum": 2018.42},
            "y": {"datum": 7.5, "type": "quantitative", "axis": null}
          }
        },
        {
          "mark": {"type": "text", "text": "Date of inversion", "font": "Liberation Sans", "fontWeight": "bold", "fontSize": 21.5, "color": "#222222", "align": "left", "baseline": "middle"},
          "encoding": {
            "x": {"datum": 2001.4, "type": "quantitative", "title": null},
            "y": {"datum": -0.47, "type": "quantitative", "axis": null}
          }
        },
        {
          "mark": {"type": "text", "text": "prior to recession", "font": "Liberation Sans", "fontWeight": "bold", "fontSize": 21.5, "color": "#222222", "align": "left", "baseline": "middle"},
          "encoding": {
            "x": {"datum": 2001.4, "type": "quantitative", "title": null},
            "y": {"datum": 0.17, "type": "quantitative", "axis": null}
          }
        },
        {
          "mark": {"type": "text", "text": "Time to recession", "font": "Liberation Sans", "fontWeight": "bold", "fontSize": 21.5, "color": "#222222", "align": "center", "baseline": "middle"},
          "encoding": {
            "x": {"datum": 2014.04, "type": "quantitative", "title": null},
            "y": {"datum": 0.17, "type": "quantitative", "axis": null}
          }
        },
        {
          "transform": [{"filter": "datum.r < 8"}],
          "mark": {"type": "text", "font": "Liberation Sans", "fontSize": 22.5, "color": "#222222", "align": "left", "baseline": "middle"},
          "encoding": {
            "x": {"datum": 2001.4, "type": "quantitative", "title": null},
            "y": {"field": "r", "type": "quantitative", "axis": null},
            "text": {"field": "date"}
          }
        },
        {
          "transform": [{"filter": "datum.r < 8"}],
          "mark": {"type": "text", "font": "Liberation Sans", "fontSize": 22.5, "color": "#222222", "align": "center", "baseline": "middle"},
          "encoding": {
            "x": {"datum": 2014.04, "type": "quantitative", "title": null},
            "y": {"field": "r", "type": "quantitative", "axis": null},
            "text": {"field": "lead"}
          }
        },
        {
          "transform": [{"filter": "datum.r == 8"}],
          "mark": {"type": "text", "font": "Liberation Sans", "fontSize": 21.5, "fontWeight": "bold", "color": "#222222", "align": "left", "baseline": "middle"},
          "encoding": {
            "x": {"datum": 2001.4, "type": "quantitative", "title": null},
            "y": {"field": "r", "type": "quantitative", "axis": null},
            "text": {"field": "date"}
          }
        },
        {
          "transform": [{"filter": "datum.r == 8"}],
          "mark": {"type": "text", "font": "Liberation Sans", "fontSize": 21.5, "fontWeight": "bold", "color": "#222222", "align": "center", "baseline": "middle"},
          "encoding": {
            "x": {"datum": 2014.04, "type": "quantitative", "title": null},
            "y": {"field": "r", "type": "quantitative", "axis": null},
            "text": {"field": "lead"}
          }
        }
      ]
    }
  ],
  "resolve": {"scale": {"y": "independent"}}
}
